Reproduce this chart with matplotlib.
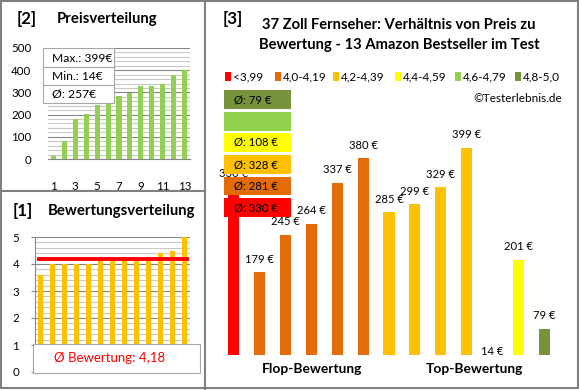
import matplotlib
matplotlib.use('Agg')
import matplotlib.pyplot as plt
from matplotlib.patches import Rectangle
from matplotlib.lines import Line2D
from matplotlib.ticker import MultipleLocator

plt.rcParams['font.family'] = ['Lato', 'DejaVu Sans']

W, H = 580, 390

# data
ranks = list(range(1, 14))
prices_sorted = [14, 79, 179, 201, 245, 264, 285, 299, 329, 330, 337, 380, 399]
ratings_sorted = [3.6, 4.0, 4.0, 4.0, 4.0, 4.1, 4.2, 4.2, 4.2, 4.2, 4.4, 4.5, 5.0]

prices = [330, 179, 245, 264, 337, 380, 285, 299, 329, 399, 14, 201, 79]
groups = [0, 1, 1, 1, 1, 1, 2, 2, 2, 2, 3, 3, 5]
group_labels = ['<3,99', '4,0-4,19', '4,2-4,39', '4,4-4,59', '4,6-4,79', '4,8-5,0']
group_colors = ['#FF0000', '#E36C09', '#FFC000', '#FFFF00', '#92D050', '#77933C']

GRID_MAJ = '#868686'
GRID_MIN = '#C8C8C8'

fig = plt.figure(figsize=(W / 100, H / 100), dpi=100)
renderer = fig.canvas.get_renderer()


def fx(x):
    return x / W


def fy(y):
    return 1 - y / H


def ax_at(x0, y0, x1, y1):
    return fig.add_axes([fx(x0), fy(y1), (x1 - x0) / W, (y1 - y0) / H])


def box(x0, y0, x1, y1, fc, ec='none', lw=0, z=10):
    fig.add_artist(Rectangle((fx(x0), fy(y1)), (x1 - x0) / W, (y1 - y0) / H,
                             transform=fig.transFigure, facecolor=fc,
                             edgecolor=ec, linewidth=lw, zorder=z))


def size_for(s, width, weight='normal'):
    # font size that makes s about `width` pixels wide
    t = fig.text(0, 0, s, fontsize=10, fontweight=weight)
    w = t.get_window_extent(renderer).width
    t.remove()
    return 10 * width / w


def txt(x, y, s, **kw):
    kw.setdefault('zorder', 20)
    kw.setdefault('va', 'center')
    fig.text(fx(x), fy(y), s, **kw)


# font sizes taken from the reference text widths
fs_head = size_for('Bewertungsverteilung', 147, 'bold')
fs_num = size_for('[2]', 20, 'bold')
fs_title = size_for('37 Zoll Fernseher: Verhältnis von Preis zu', 273, 'bold')
fs_leg = size_for('4,0-4,19', 44)
fs_lab = size_for('179 €', 29)
fs_avg = size_for('Ø: 108 €', 44)
fs_box = size_for('Max.: 399€', 60)
fs_tick = size_for('500', 20)
fs_axis = size_for('Flop-Bewertung', 100, 'bold')
fs_rating = size_for('Ø Bewertung: 4,18', 111)

# borders
box(1, 1, 578, 388, 'none', '#808080', 1.5, z=30)
fig.add_artist(Line2D([fx(205), fx(205)], [fy(0), fy(390)], transform=fig.transFigure,
                      color='#808080', lw=1.5, zorder=30))
fig.add_artist(Line2D([fx(0), fx(205)], [fy(191), fy(191)], transform=fig.transFigure,
                      color='#808080', lw=1.5, zorder=30))

# ---- [2] Preisverteilung
txt(17, 19, '[2]', fontsize=fs_num, fontweight='bold')
txt(57, 19, 'Preisverteilung', fontsize=fs_head, fontweight='bold')
ax2 = ax_at(48, 48, 190, 159)
ax2.bar(ranks, prices_sorted, width=0.46, color='#92D050', zorder=3)
ax2.set_xlim(0.5, 13.5)
ax2.set_ylim(0, 500)
ax2.yaxis.set_major_locator(MultipleLocator(100))
ax2.yaxis.set_minor_locator(MultipleLocator(20))
ax2.set_xticks(ranks[::2])
ax2.grid(axis='y', which='major', color=GRID_MAJ, lw=0.8, zorder=1)
ax2.grid(axis='y', which='minor', color=GRID_MIN, lw=0.8, zorder=1)
for s in ['top', 'right', 'left']:
    ax2.spines[s].set_visible(False)
ax2.spines['bottom'].set_color(GRID_MAJ)
ax2.tick_params(axis='both', which='both', length=0, labelsize=fs_tick)
ax2.tick_params(axis='y', pad=12)
ax2.tick_params(axis='x', pad=16)

box(43, 48, 114, 103, 'white', '#A6A6A6', 0.8, z=10)
for yy in (67, 85):
    fig.add_artist(Line2D([fx(43), fx(114)], [fy(yy), fy(yy)], transform=fig.transFigure,
                          color='#A6A6A6', lw=0.8, zorder=11))
txt(52, 58, f'Max.: {max(prices_sorted)}€', fontsize=fs_box)
txt(52, 76, f'Min.: {min(prices_sorted)}€', fontsize=fs_box)
txt(52, 94, f'Ø: {round(sum(prices_sorted) / len(prices_sorted))}€', fontsize=fs_box)

# ---- [1] Bewertungsverteilung
txt(13, 211, '[1]', fontsize=fs_num, fontweight='bold')
txt(48, 211, 'Bewertungsverteilung', fontsize=fs_head, fontweight='bold')
ax1 = ax_at(34.5, 237, 190.5, 372)
ax1.bar(ranks, ratings_sorted, width=0.42, color='#FFC000', zorder=3)
avg_rating = sum(ratings_sorted) / len(ratings_sorted)
ax1.plot([0.9, 13.2], [avg_rating, avg_rating], color='#FF0000', lw=2.8, zorder=4)
ax1.set_xlim(0.5, 13.5)
ax1.set_ylim(0, 5)
ax1.yaxis.set_major_locator(MultipleLocator(1))
ax1.yaxis.set_minor_locator(MultipleLocator(0.2))
ax1.set_xticks([])
ax1.grid(axis='y', which='major', color=GRID_MAJ, lw=0.8, zorder=1)
ax1.grid(axis='y', which='minor', color=GRID_MIN, lw=0.8, zorder=1)
for s in ['top', 'right']:
    ax1.spines[s].set_visible(False)
ax1.spines['left'].set_color(GRID_MAJ)
ax1.spines['bottom'].set_color(GRID_MAJ)
ax1.tick_params(axis='y', which='major', length=3, color=GRID_MAJ, labelsize=fs_tick, pad=8)
ax1.tick_params(axis='y', which='minor', length=0)

box(33, 344, 200, 373, 'white', '#A6A6A6', 0.8, z=10)
txt(110, 358, 'Ø Bewertung: ' + f'{avg_rating:.2f}'.replace('.', ','), fontsize=fs_rating,
    color='#FF0000', ha='center')

# ---- [3] Preis zu Bewertung
txt(223, 19, '[3]', fontsize=fs_num, fontweight='bold')
txt(399, 25, '37 Zoll Fernseher: Verhältnis von Preis zu', fontsize=fs_title,
    fontweight='bold', ha='center')
txt(399, 45, 'Bewertung - 13 Amazon Bestseller im Test', fontsize=fs_title,
    fontweight='bold', ha='center')

leg_sq = [225, 275, 333, 395, 455, 515]
for xs, lab, col in zip(leg_sq, group_labels, group_colors):
    box(xs, 72, xs + 6, 81, col, z=12)
    txt(xs + 8, 77, lab, fontsize=fs_leg)
txt(562, 99, '©Testerlebnis.de', fontsize=fs_leg, ha='right')

ax3 = ax_at(221, 121.6, 557, 355)
ax3.bar(ranks, prices, width=0.43, color=[group_colors[g] for g in groups], zorder=3)
ax3.set_xlim(0.5, 13.5)
ax3.set_ylim(33, 445)
ax3.axis('off')
ymin = ax3.get_ylim()[0]
for r, v in zip(ranks, prices):
    if v > ymin:
        ax3.annotate(f'{v} €', (r, v), xytext=(0, 9.5), textcoords='offset points',
                     ha='center', va='center', fontsize=fs_lab, zorder=5,
                     annotation_clip=False)
    else:
        ax3.annotate(f'{v} €', (r, ymin), xytext=(0, 2.2), textcoords='offset points',
                     ha='center', va='center', fontsize=fs_lab, zorder=5,
                     annotation_clip=False)

txt(312, 369, 'Flop-Bewertung', fontsize=fs_axis, fontweight='bold', ha='center')
txt(474, 369, 'Top-Bewertung', fontsize=fs_axis, fontweight='bold', ha='center')

# average boxes per rating group, top = best
avg_rows = [(90, 109), (112, 131), (133, 152), (155, 174), (177, 195), (198, 217)]
for (y0, y1), g in zip(avg_rows, range(5, -1, -1)):
    vals = [p for p, gg in zip(prices, groups) if gg == g]
    box(224, y0, 291, y1, group_colors[g], z=12)
    if vals:
        mean = int(sum(vals) / len(vals) + 0.5)
        txt(234, (y0 + y1) / 2, f'Ø: {mean} €', fontsize=fs_avg)

fig.savefig('out.png', dpi=100)
